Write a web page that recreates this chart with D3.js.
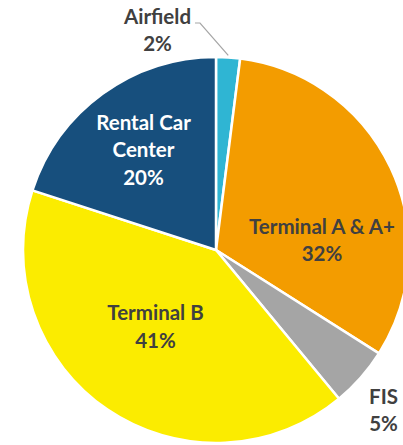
<!DOCTYPE html>
<html>
<head>
<meta charset="utf-8">
<script src="https://cdn.jsdelivr.net/npm/d3@7"></script>
<style>
  body { margin: 0; background: #fff; }
  svg { display: block; }
  .lbl { font-family: Lato, "Open Sans", sans-serif; font-weight: 700; font-size: 20.5px; text-anchor: middle; }
</style>
</head>
<body>
<svg width="403" height="445"></svg>
<script>
// slice names and shares, clockwise from 12 o'clock
var categories = ['Airfield', 'Terminal A & A+', 'FIS', 'Terminal B', 'Rental Car Center'];
var shares = [2, 32, 5, 41, 20];
var pctLabels = ['2%', '32%', '5%', '41%', '20%'];

// label text split into lines
var labelLines = [['Airfield'], ['Terminal A & A+'], ['FIS'], ['Terminal B'], ['Rental Car', 'Center']];

var colors = ['#2fb5d3', '#f39c00', '#a5a5a5', '#fbec00', '#174f7d'];
var textColors = ['#404040', '#404040', '#404040', '#404040', '#ffffff'];

// label centre offsets from pie centre (Excel "best fit" placement)
var labelOffset = [[-58.5, -219.5], [106, -9.5], [167.5, 160.5], [-60.5, 77], [-72.5, -100]];

var svg = d3.select('svg');
var cx = 216, cy = 250, radius = 193;

var g = svg.append('g').attr('transform', 'translate(' + [cx, cy] + ')');

var data = categories.map(function(c, i) {
    return { name: c, value: shares[i], pct: pctLabels[i], lines: labelLines[i], i: i };
});

var pie = d3.pie().sort(null).value(function(d) { return d.value; });
var arc = d3.arc().innerRadius(0).outerRadius(radius);
var arcs = pie(data);

g.selectAll('.slice')
    .data(arcs)
    .enter()
    .append('path')
    .attr('class', 'slice')
    .attr('d', arc)
    .attr('fill', function(d) { return colors[d.data.i]; })
    .attr('stroke', '#fff')
    .attr('stroke-width', 2.5)
    .attr('stroke-linejoin', 'round');

// leader line for the small Airfield slice
var a0 = arcs[0];
var mid = (a0.startAngle + a0.endAngle) / 2;
var tip = [Math.sin(mid) * (radius + 2), -Math.cos(mid) * (radius + 2)];
g.append('polyline')
    .attr('points', [[-21, -227], [-16, -227], tip].map(function(p) { return p.join(','); }).join(' '))
    .attr('fill', 'none')
    .attr('stroke', '#a6a6a6')
    .attr('stroke-width', 1.2);

var lineH = 27.5;
var labels = g.selectAll('.lbl')
    .data(arcs)
    .enter()
    .append('text')
    .attr('class', 'lbl')
    .attr('fill', function(d) { return textColors[d.data.i]; })
    .attr('transform', function(d) { return 'translate(' + labelOffset[d.data.i] + ')'; });

labels.each(function(d) {
    var t = d3.select(this);
    var rows = d.data.lines.concat([d.data.pct]);
    var y0 = -(rows.length - 1) * lineH / 2;
    rows.forEach(function(r, k) {
        t.append('tspan')
            .attr('x', 0)
            .attr('y', y0 + k * lineH)
            .attr('dy', '0.35em')
            .text(r);
    });
});
</script>
</body>
</html>
